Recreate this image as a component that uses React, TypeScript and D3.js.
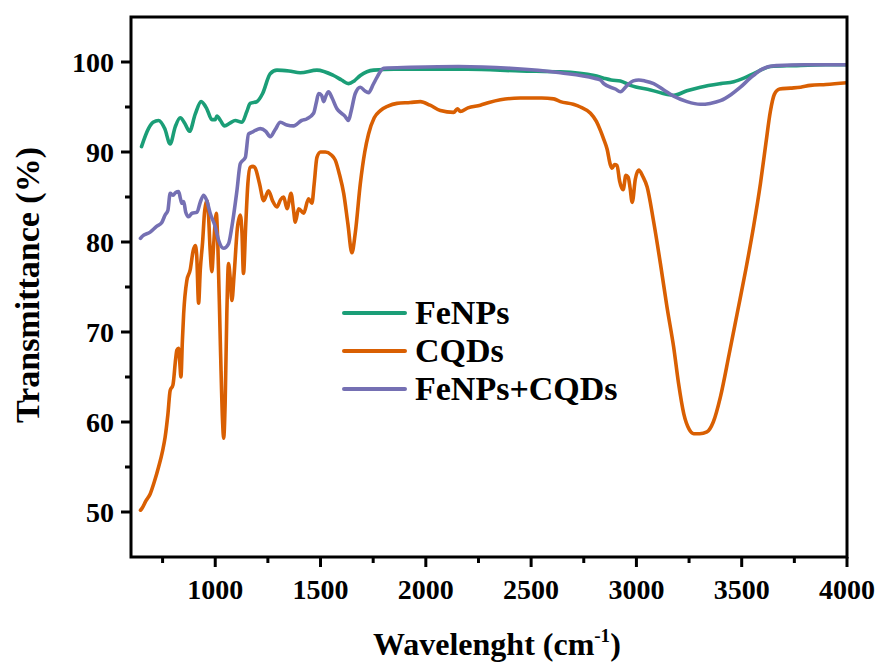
import * as d3 from "d3";

// FTIR spectra: [wavenumber, transmittance %]
const feNps: [number, number][] = [
  [650, 90.6], [683, 92.6], [705, 93.3], [731, 93.5], [760, 92.6], [786, 90.9], [810, 92.8],
  [834, 93.8], [855, 93.2], [878, 92.3], [905, 94.2], [933, 95.6], [960, 94.8], [984, 93.6],
  [1000, 93.6], [1008, 94.0], [1025, 93.5], [1044, 92.9], [1070, 93.2], [1095, 93.5], [1127, 93.3],
  [1150, 94.5], [1166, 95.4], [1198, 95.6], [1225, 96.5], [1261, 98.7], [1293, 99.1], [1350, 99.0],
  [1404, 98.8], [1483, 99.1], [1562, 98.5], [1600, 98.0], [1633, 97.6], [1660, 97.9], [1689, 98.5],
  [1752, 99.1], [1850, 99.2], [1974, 99.2], [2200, 99.2], [2450, 99.0], [2639, 98.9], [2800, 98.5],
  [2845, 98.2], [2880, 98.0], [2924, 97.9], [2971, 97.4], [3067, 96.9], [3177, 96.3], [3240, 96.8],
  [3304, 97.2], [3400, 97.6], [3462, 97.8], [3510, 98.2], [3557, 98.7], [3600, 99.2], [3637, 99.5],
  [3746, 99.6], [3900, 99.7], [4000, 99.7],
];

const cqds: [number, number][] = [
  [645, 50.2], [652, 50.4], [670, 51.2], [691, 52.0], [710, 53.3], [731, 55.0], [750, 56.8],
  [762, 58.3], [775, 60.8], [786, 63.5], [799, 64.1], [812, 67.0], [818, 68.0], [826, 68.2],
  [832, 66.5], [837, 65.0], [844, 69.0], [850, 72.0], [865, 75.7], [881, 76.9], [895, 79.0],
  [905, 79.6], [912, 78.5], [921, 73.2], [929, 76.9], [940, 80.0], [950, 83.5], [961, 84.6],
  [968, 83.0], [976, 79.0], [984, 76.7], [992, 79.5], [1005, 83.2], [1012, 80.0], [1025, 68.0],
  [1035, 60.0], [1040, 58.2], [1047, 62.0], [1055, 72.0], [1063, 77.6], [1071, 76.0], [1079, 73.5],
  [1090, 76.5], [1105, 81.5], [1119, 83.0], [1127, 81.0], [1134, 76.5], [1145, 82.0], [1155, 86.5],
  [1166, 88.3], [1180, 88.4], [1190, 88.2], [1210, 86.5], [1230, 84.6], [1253, 85.7], [1272, 84.6],
  [1293, 83.9], [1310, 84.7], [1325, 85.0], [1341, 83.7], [1360, 85.4], [1372, 83.5], [1380, 82.2],
  [1396, 83.7], [1420, 83.2], [1443, 84.8], [1459, 84.3], [1470, 86.5], [1483, 89.4], [1500, 90.0],
  [1523, 90.0], [1550, 89.7], [1570, 89.1], [1590, 87.5], [1610, 85.4], [1630, 82.0], [1649, 78.8],
  [1665, 81.0], [1689, 86.5], [1710, 90.0], [1728, 92.0], [1755, 93.8], [1784, 94.6], [1820, 95.1],
  [1863, 95.4], [1926, 95.5], [1974, 95.6], [2020, 95.2], [2069, 94.6], [2132, 94.4], [2150, 94.8],
  [2164, 94.5], [2200, 94.9], [2259, 95.2], [2300, 95.5], [2354, 95.8], [2449, 96.0], [2550, 96.0],
  [2607, 95.9], [2639, 95.6], [2700, 95.3], [2734, 95.0], [2782, 94.3], [2810, 93.4], [2829, 92.4],
  [2845, 91.4], [2861, 90.3], [2876, 88.6], [2884, 88.2], [2896, 88.6], [2908, 88.5], [2920, 86.8],
  [2937, 85.8], [2950, 87.4], [2961, 87.2], [2970, 86.0], [2980, 84.4], [2995, 87.0], [3011, 88.0],
  [3030, 87.3], [3051, 86.1], [3080, 82.5], [3114, 77.6], [3145, 72.8], [3177, 68.3], [3200, 64.3],
  [3225, 60.9], [3250, 59.2], [3272, 58.7], [3300, 58.7], [3335, 58.9], [3365, 60.0], [3399, 62.8],
  [3440, 67.5], [3478, 72.0], [3520, 77.0], [3557, 81.8], [3589, 86.5], [3615, 91.0], [3636, 94.5],
  [3655, 96.4], [3680, 97.0], [3731, 97.1], [3780, 97.2], [3826, 97.4], [3900, 97.5], [4000, 97.7],
];

const feNpsCqds: [number, number][] = [
  [645, 80.4], [652, 80.6], [691, 81.1], [720, 81.7], [747, 82.2], [762, 83.0], [775, 83.5],
  [786, 85.4], [800, 85.2], [812, 85.5], [826, 85.6], [835, 84.8], [842, 84.3], [850, 84.5],
  [860, 83.3], [873, 82.8], [890, 83.2], [913, 83.3], [930, 84.5], [945, 85.2], [960, 84.6],
  [976, 83.2], [1000, 81.7], [1016, 80.2], [1040, 79.3], [1063, 79.8], [1079, 81.7], [1103, 85.7],
  [1119, 88.7], [1143, 89.4], [1158, 92.0], [1175, 92.2], [1190, 92.4], [1214, 92.6], [1240, 92.3],
  [1261, 91.7], [1285, 92.5], [1309, 93.3], [1340, 93.0], [1372, 92.9], [1410, 93.5], [1436, 93.7],
  [1467, 94.3], [1480, 95.5], [1491, 96.5], [1505, 96.3], [1515, 95.6], [1525, 96.2], [1538, 96.7],
  [1555, 96.0], [1578, 94.8], [1600, 94.3], [1615, 94.0], [1633, 93.5], [1645, 94.5], [1665, 96.5],
  [1689, 97.2], [1710, 96.8], [1728, 96.6], [1750, 97.5], [1768, 98.3], [1800, 99.3], [1926, 99.4],
  [2154, 99.5], [2400, 99.3], [2639, 98.8], [2800, 98.2], [2829, 98.0], [2845, 97.6], [2900, 97.0],
  [2924, 96.7], [2956, 97.4], [2985, 97.9], [3011, 98.0], [3040, 97.9], [3082, 97.6], [3130, 96.9],
  [3177, 96.2], [3240, 95.6], [3304, 95.3], [3350, 95.4], [3399, 95.7], [3450, 96.4], [3494, 97.2],
  [3540, 98.2], [3589, 99.1], [3630, 99.5], [3668, 99.6], [3800, 99.7], [4000, 99.7],
];

const seriesNames = ["FeNPs", "CQDs", "FeNPs+CQDs"];
const seriesColors = ["#1b9e77", "#d95f02", "#7570b3"];
const xTicks = [1000, 1500, 2000, 2500, 3000, 3500, 4000];
const xMinorTicks = [750, 1250, 1750, 2250, 2750, 3250, 3750];
const yTicks = [50, 60, 70, 80, 90, 100];
const yMinorTicks = [55, 65, 75, 85, 95];

const W = 883;
const H = 664;
const left = 131;
const right = 847;
const top = 17;
const bottom = 557;
const font = "'Liberation Serif', 'Times New Roman', serif";

export default function App() {
  const x = d3.scaleLinear().domain([600, 4000]).range([left, right]);
  const y = d3.scaleLinear().domain([45, 105]).range([bottom, top]);
  const line = d3
    .line<[number, number]>()
    .x((d) => x(d[0]))
    .y((d) => y(d[1]))
    .curve(d3.curveMonotoneX);

  const data = [feNps, cqds, feNpsCqds];
  const legendY = [313, 351, 389];

  return (
    <svg
      width={W}
      height={H}
      style={{ position: "absolute", left: 0, top: 0, background: "#fff" }}
      fontFamily={font}
      fontWeight="bold"
    >
      <defs>
        <clipPath id="plot">
          <rect x={left} y={top} width={right - left} height={bottom - top} />
        </clipPath>
      </defs>

      <g clipPath="url(#plot)">
        {data.map((d, i) => (
          <path
            key={seriesNames[i]}
            d={line(d) || ""}
            fill="none"
            stroke={seriesColors[i]}
            strokeWidth={3.6}
            strokeLinejoin="round"
            strokeLinecap="round"
          />
        ))}
      </g>

      {/* frame */}
      <rect
        x={left}
        y={top}
        width={right - left}
        height={bottom - top}
        fill="none"
        stroke="#000"
        strokeWidth={3}
      />

      {/* x ticks */}
      {xTicks.map((t) => (
        <g key={"x" + t}>
          <line x1={x(t)} x2={x(t)} y1={bottom} y2={bottom + 10} stroke="#000" strokeWidth={3} />
          <text x={x(t)} y={bottom + 42} textAnchor="middle" fontSize={28}>
            {t}
          </text>
        </g>
      ))}
      {xMinorTicks.map((t) => (
        <line key={"xm" + t} x1={x(t)} x2={x(t)} y1={bottom} y2={bottom + 6} stroke="#000" strokeWidth={3} />
      ))}

      {/* y ticks */}
      {yTicks.map((t) => (
        <g key={"y" + t}>
          <line x1={left - 10} x2={left} y1={y(t)} y2={y(t)} stroke="#000" strokeWidth={3} />
          <text x={left - 17} y={y(t) + 10} textAnchor="end" fontSize={28}>
            {t}
          </text>
        </g>
      ))}
      {yMinorTicks.map((t) => (
        <line key={"ym" + t} x1={left - 6} x2={left} y1={y(t)} y2={y(t)} stroke="#000" strokeWidth={3} />
      ))}

      {/* axis titles */}
      <text
        transform={`translate(39, ${(top + bottom) / 2 - 2}) rotate(-90)`}
        textAnchor="middle"
        fontSize={34}
      >
        Transmittance (%)
      </text>
      <text x={373} y={655} fontSize={32}>
        Wavelenght (cm
        <tspan dy={-13} fontSize={19}>-1</tspan>
        <tspan dy={13}>)</tspan>
      </text>

      {/* legend */}
      {seriesNames.map((n, i) => (
        <g key={"lg" + n}>
          <line x1={344} x2={405} y1={legendY[i]} y2={legendY[i]} stroke={seriesColors[i]} strokeWidth={4} strokeLinecap="round" />
          <text x={415} y={legendY[i] + 11} fontSize={34}>
            {n}
          </text>
        </g>
      ))}
    </svg>
  );
}
